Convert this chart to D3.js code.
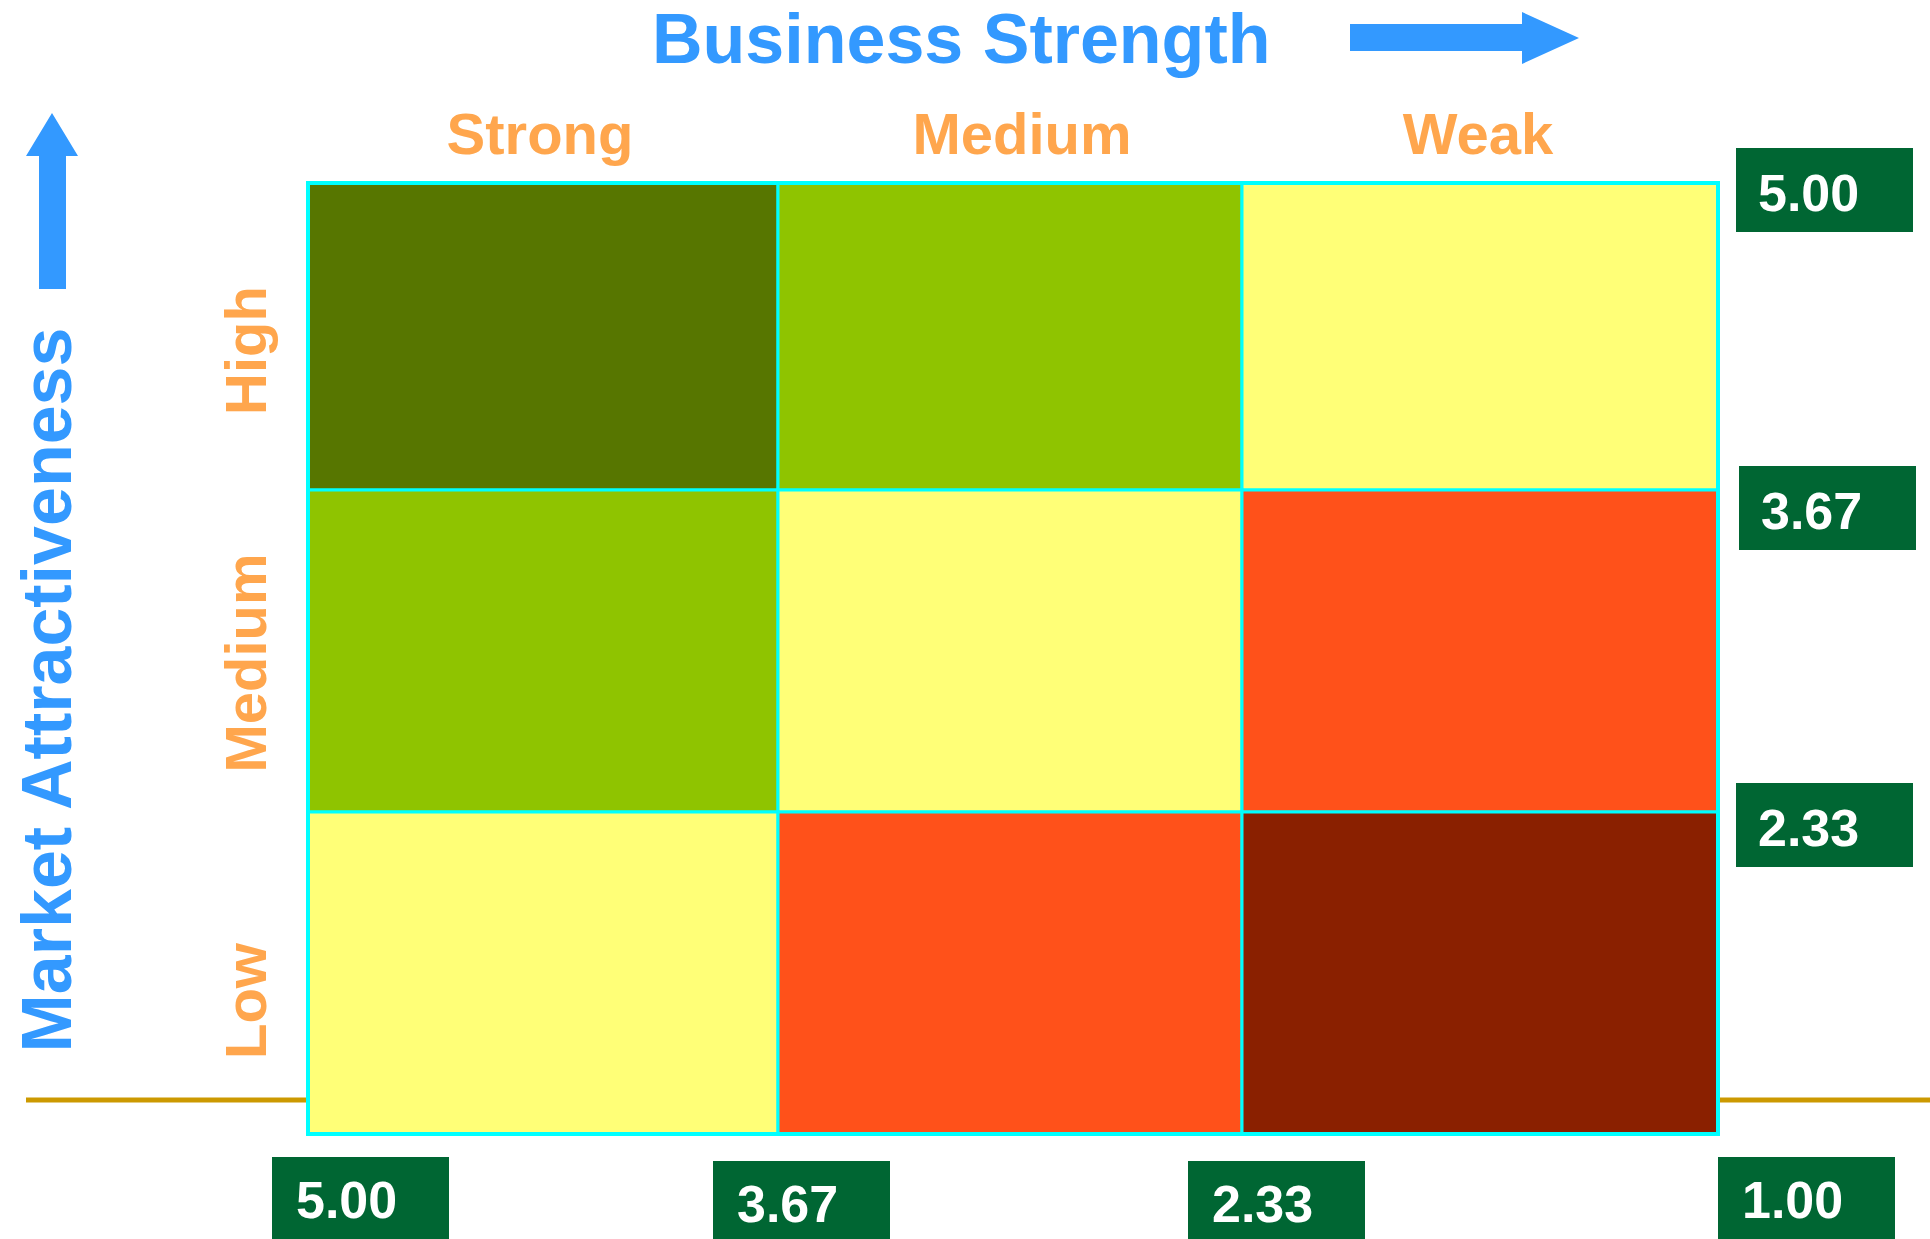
<!DOCTYPE html>
<html>
<head>
<meta charset="utf-8">
<script src="https://cdn.jsdelivr.net/npm/d3@7"></script>
<style>
  html, body { margin: 0; padding: 0; background: #fff; }
  svg { display: block; font-family: 'Liberation Sans', Arial, sans-serif; font-weight: bold; }
</style>
</head>
<body>
<div id="chart"></div>
<script>
// GE / McKinsey style matrix
const strengthLabels = ['Strong', 'Medium', 'Weak'];
const attractLabels = ['High', 'Medium', 'Low'];
const xTicks = [5.00, 3.67, 2.33, 1.00];
const yTicks = [5.00, 3.67, 2.33];
const yEdges = [5.00, 3.67, 2.33, 1.00];
// zone per cell, rows = attractiveness (High..Low), cols = strength (Strong..Weak)
const zones = [
  [0, 1, 2],
  [1, 2, 3],
  [2, 3, 4],
];
const zoneFill = ['#577600', '#8fc400', '#ffff77', '#ff511a', '#8a2000'];

const width = 1930;
const height = 1239;
const blue = '#3399ff';
const orange = '#ffa64d';
const boxFill = '#006633';

// the slide's cells are not quite even, so the scales are piecewise
const xScale = d3.scaleLinear().domain(xTicks).range([308, 778, 1242, 1718]);
const yScale = d3.scaleLinear().domain(yEdges).range([183, 490, 812, 1134]);

const svg = d3.select('#chart')
  .append('svg')
  .attr('width', width)
  .attr('height', height);

// gold baseline behind the grid
svg.append('line')
  .attr('x1', 26)
  .attr('x2', width)
  .attr('y1', 1100)
  .attr('y2', 1100)
  .attr('stroke', '#cc9900')
  .attr('stroke-width', 5);

// cells
const cells = [];
zones.forEach((row, r) => row.forEach((z, c) => {
  cells.push({ r, c, z });
}));

svg.append('g')
  .selectAll('rect')
  .data(cells)
  .join('rect')
  .attr('x', d => xScale(xTicks[d.c]))
  .attr('y', d => yScale(yEdges[d.r]))
  .attr('width', d => xScale(xTicks[d.c + 1]) - xScale(xTicks[d.c]))
  .attr('height', d => yScale(yEdges[d.r + 1]) - yScale(yEdges[d.r]))
  .attr('fill', d => zoneFill[d.z])
  .attr('stroke', '#00ffff')
  .attr('stroke-width', 3);

svg.append('rect')
  .attr('x', xScale(5))
  .attr('y', yScale(5))
  .attr('width', xScale(1) - xScale(5))
  .attr('height', yScale(1) - yScale(5))
  .attr('fill', 'none')
  .attr('stroke', '#00ffff')
  .attr('stroke-width', 4);

// title + arrows
svg.append('text')
  .attr('x', 652)
  .attr('y', 63)
  .style('font-size', '70px')
  .style('fill', blue)
  .text('Business Strength');

svg.append('path')
  .attr('d', 'M1350,24 H1522 V12 L1579,38 L1522,64 V51 H1350 Z')
  .attr('fill', blue);

svg.append('path')
  .attr('d', 'M39,289 V156 H26 L52,113 L78,156 H66 V289 Z')
  .attr('fill', blue);

svg.append('text')
  .attr('transform', 'translate(71,690) rotate(-90)')
  .attr('text-anchor', 'middle')
  .style('font-size', '70px')
  .style('fill', blue)
  .text('Market Attractiveness');

// column labels
const colNudge = [-3, 12, -2];
svg.append('g')
  .selectAll('text')
  .data(strengthLabels)
  .join('text')
  .attr('x', (d, i) => (xScale(xTicks[i]) + xScale(xTicks[i + 1])) / 2 + colNudge[i])
  .attr('y', 154)
  .attr('text-anchor', 'middle')
  .style('font-size', '58px')
  .style('fill', orange)
  .text(d => d);

// row labels
const rowNudge = [14, 12, 28];
svg.append('g')
  .selectAll('text')
  .data(attractLabels)
  .join('text')
  .attr('transform', (d, i) => {
    const cy = (yScale(yEdges[i]) + yScale(yEdges[i + 1])) / 2 + rowNudge[i];
    return `translate(266,${cy}) rotate(-90)`;
  })
  .attr('text-anchor', 'middle')
  .style('font-size', '58px')
  .style('fill', orange)
  .text(d => d);

// value boxes, right side
const rightNudge = [-35, -24, -29];
const rightBox = svg.append('g')
  .selectAll('g')
  .data(yTicks)
  .join('g')
  .attr('transform', (d, i) => `translate(${i === 1 ? 1739 : 1736},${yScale(d) + rightNudge[i]})`);

rightBox.append('rect')
  .attr('width', 177)
  .attr('height', 84)
  .attr('fill', boxFill);

rightBox.append('text')
  .attr('x', 22)
  .attr('y', 63)
  .style('font-size', '52px')
  .style('fill', '#fff')
  .text(d => d.toFixed(2));

// value boxes, bottom
const bottomNudge = [-36, -65, -54, 0];
const bottomTop = [1157, 1161, 1161, 1157];
const bottomBox = svg.append('g')
  .selectAll('g')
  .data(xTicks)
  .join('g')
  .attr('transform', (d, i) => `translate(${xScale(d) + bottomNudge[i]},${bottomTop[i]})`);

bottomBox.append('rect')
  .attr('width', 177)
  .attr('height', 90)
  .attr('fill', boxFill);

bottomBox.append('text')
  .attr('x', 24)
  .attr('y', 61)
  .style('font-size', '52px')
  .style('fill', '#fff')
  .text(d => d.toFixed(2));
</script>
</body>
</html>
